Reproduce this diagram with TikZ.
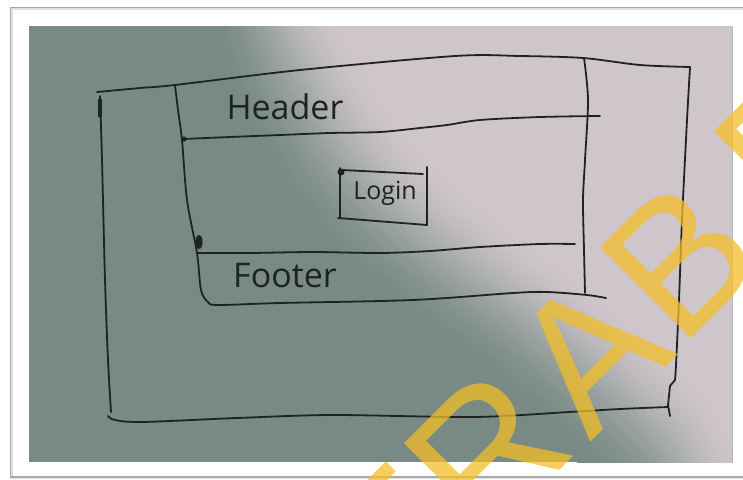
\documentclass[tikz,border=0pt]{standalone}
\usepackage{fontspec}
\newfontfamily\handfont{Open Sans}
\newfontfamily\wmfont{Liberation Sans}
\definecolor{teal0}{RGB}{120,138,131}
\definecolor{pink0}{RGB}{207,198,204}
\definecolor{ink}{RGB}{30,34,32}
\definecolor{wm}{RGB}{242,190,40}
\definecolor{framegray}{RGB}{170,170,170}
\begin{document}
\begin{tikzpicture}[x=1pt,y=-1pt,
  sk/.style={draw=ink, line width=1.8pt, line cap=round, line join=round},
  lbl/.style={font=\handfont\fontsize{34}{34}\selectfont, text=ink, inner sep=0pt},
  wml/.style={font=\wmfont\fontsize{187}{187}\selectfont, text=wm, text opacity=0.75, rotate=45, anchor=base west, inner sep=0pt}]
\useasboundingbox (0,0) rectangle (743,479);
\clip (0,0) rectangle (743,479);
\fill[white] (0,0) rectangle (743,479);
% frame
\draw[black!12, line width=2.5pt] (800,478) -- (11.5,478) -- (11.5,8.5) -- (800,8.5);
\draw[framegray, line width=1.2pt] (800,477) -- (10.5,477) -- (10.5,7.5) -- (800,7.5);
% photo background
\begin{scope}
  \clip (29,26) rectangle (732,462);
  \fill[teal0] (29,26) rectangle (732,462);
  \foreach \i in {0,...,24} {
    \pgfmathsetmacro\s{(\i-12)*6}
    \pgfmathsetmacro\p{50-50*cos(180*\i/24)}
    \fill[pink0!\p!teal0, shift={(\s*0.77,-\s*0.64)}]
      plot[smooth] coordinates {(720,600) (670,462) (615,400) (535,330) (455,270) (385,210) (335,150) (295,80) (272,26) (255,-60)}
      -- (1100,-300) -- (1100,800) -- cycle;
  }
\end{scope}
% outer frame of sketch
\draw[sk] plot[smooth] coordinates {(97,92) (140,88) (175,85) (300,70) (455,56) (520,56) (583,58) (640,65) (690,67)};
\draw[sk] plot[smooth] coordinates {(100,96) (102,160) (105,280) (108,360) (111,412)};
\draw[sk, line width=3.2pt] (100,100) -- (100,116);
\draw[sk] plot[smooth] coordinates {(108,416) (115,420) (142,422) (237,418) (332,415) (474,417) (569,412) (620,409) (668,407)};
\draw[sk] plot[smooth] coordinates {(690,67) (687,120) (682,220) (679,300) (676,365) (675,380)} -- (670,386) -- (668,405) -- (670,416);
% inner page
\draw[sk] plot[smooth] coordinates {(175,85) (178,110) (182,140) (187,200) (197,253) (201,290) (208,302) (218,305) (280,303) (413,300) (513,293) (547,292) (587,295) (606,298)};
\draw[sk] plot[smooth] coordinates {(584,58) (588,100) (585,160) (583,200) (584,250) (585,293)};
% header divider
\draw[sk] plot[smooth] coordinates {(183,139) (230,137) (280,135) (330,133) (380,132) (420,128) (447,125) (480,120) (540,117) (600,116)};
\fill[ink] (184,139) circle (2.6);
% footer divider
\draw[sk] plot[smooth] coordinates {(197,253) (250,253) (313,252) (380,253) (430,251) (480,247) (540,244) (575,244)};
\fill[ink] (199,242) ellipse (3.6 and 7);
% login box
\draw[sk] (340,168) -- (340,218);
\draw[sk] (342,170) -- (423,174);
\draw[sk] (427,167) -- (427,225);
\draw[sk] (338,218) -- (427,225);
\fill[ink] (341,172) circle (3.5);
% labels
\node[lbl] (header) at (285,107) {Header};
\node[lbl] (footer) at (285,276) {Footer};
\node[lbl, font=\handfont\fontsize{25}{25}\selectfont] (login) at (385,193) {Login};
% watermark
\node[wml] (wmT) at (399,631) {T};
\node[wml] (wmR) at (484.6,545.4) {R};
\node[wml] (wmA) at (590,443) {A};
\node[wml] (wmB) at (680.3,349.7) {B};
\node[wml] (wmE) at (794.6,233.4) {E};
\end{tikzpicture}
\end{document}
